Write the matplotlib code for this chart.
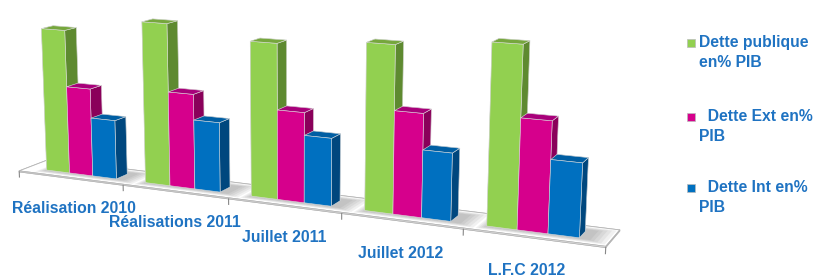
import matplotlib
matplotlib.use("Agg")
import matplotlib.pyplot as plt
import numpy as np
from matplotlib.patches import Rectangle
from mpl_toolkits.mplot3d import proj3d
from mpl_toolkits.mplot3d.art3d import Poly3DCollection

categories = ["Réalisation 2010", "Réalisations 2011", "Juillet 2011", "Juillet 2012", "L.F.C 2012"]
dette_publique = [40.5, 44.5, 41.5, 43.5, 45.9]
dette_ext = [24.7, 26.0, 24.0, 26.8, 28.0]
dette_int = [16.5, 19.0, 18.0, 17.5, 18.5]
series_labels = ["Dette publique\nen% PIB", "  Dette Ext en%\nPIB", "  Dette Int en%\nPIB"]

front = ["#92D050", "#D6008C", "#0070C0"]
top = ["#76A73D", "#A8007A", "#005EA3"]
side = ["#5E8A30", "#8A005A", "#00477E"]
text_blue = "#1F73C2"

plt.rcParams["font.family"] = ["Liberation Sans", "DejaVu Sans"]

fig = plt.figure(figsize=(8.17, 2.77), dpi=100)
# the 3D axes draws inside a square, so make the box tall enough to hold the wide chart
ax = fig.add_axes([-0.057, -0.625, 0.82, 2.42], projection="3d", computed_zorder=False)
ax.set_proj_type("persp", focal_length=0.4)
ax.view_init(elev=12, azim=-65)

group_step = 4.0
bar_w = 0.95
bar_d = 0.7
values = [dette_publique, dette_ext, dette_int]
n = len(categories)

xs, heights, colors = [], [], []
for i in range(n):
    for j, vals in enumerate(values):
        xs.append(i * group_step + j * bar_w)
        heights.append(vals[i])
        # face order in bar3d: -z, +z, -y, +y, -x, +x
        colors += [side[j], top[j], front[j], front[j], side[j], side[j]]
xs = np.array(xs)
heights = np.array(heights)

x0 = -0.8
x1 = (n - 1) * group_step + 3 * bar_w + 0.9
y0, y1 = -0.5, bar_d + 0.6
zmax = 50

# floor
ax.bar3d([x0], [y0], [-0.3], x1 - x0, y1 - y0, 0.3, color="white", shade=False,
         edgecolor="#B5B5B5", linewidth=0.6, zorder=1)

# soft shadows on the floor around each group
for i in range(n):
    gx0 = i * group_step
    gx1 = gx0 + 3 * bar_w
    for k in range(5):
        pad = 0.12 * k
        quad = [[(gx0 - pad * 0.5, -0.1 - pad * 0.5, 0.01),
                 (gx1 + 0.35 + pad, -0.1 - pad * 0.5, 0.01),
                 (gx1 + 0.35 + pad, bar_d + 0.25 + pad * 0.5, 0.01),
                 (gx0 - pad * 0.5, bar_d + 0.25 + pad * 0.5, 0.01)]]
        ax.add_collection3d(Poly3DCollection(quad, facecolor="#555555", alpha=0.08,
                                             edgecolor="none", zorder=2))

ax.bar3d(xs, np.zeros_like(xs), np.zeros_like(xs), bar_w, bar_d, heights,
         color=colors, shade=False, edgecolor="#DDDDDD", linewidth=0.4, zorder=3)

# ticks on the front edge of the floor
tick_x = [x0] + [i * group_step + 3 * bar_w + (group_step - 3 * bar_w) / 2 for i in range(n - 1)] + [x1]
for xb in tick_x:
    ax.plot([xb, xb], [y0, y0], [-0.3, -1.8], color="#888888", lw=0.8, zorder=2)

ax.set_xlim(x0, x1)
ax.set_ylim(y0, y1)
ax.set_zlim(-0.3, zmax)
ax.set_box_aspect((x1 - x0, (y1 - y0), zmax * 0.124), zoom=0.975)
ax.set_axis_off()

# category labels: project the 3D anchor below each group, then place as plain 2D text
fig.canvas.draw()
for i, cat in enumerate(categories):
    xp, yp, _ = proj3d.proj_transform(i * group_step + 1.5 * bar_w, y0, -6.8, ax.get_proj())
    ax.text2D(xp, yp, cat, transform=ax.transData, ha="center", va="top",
              color=text_blue, fontweight="bold", fontsize=11.3, zorder=4)

# legend
leg_y = [43, 117, 188]
for j, lab in enumerate(series_labels):
    yf = 1 - leg_y[j] / 277
    fig.add_artist(Rectangle((687 / 817, yf - 4 / 277), 8 / 817, 8 / 277,
                             transform=fig.transFigure, facecolor=front[j],
                             edgecolor="#BBBBBB", linewidth=0.5))
    fig.text(699 / 817, yf + 8 / 277, lab, ha="left", va="top", color=text_blue,
             fontweight="bold", fontsize=11.3, linespacing=1.45)

fig.savefig("out.png", dpi=100, facecolor="white")
